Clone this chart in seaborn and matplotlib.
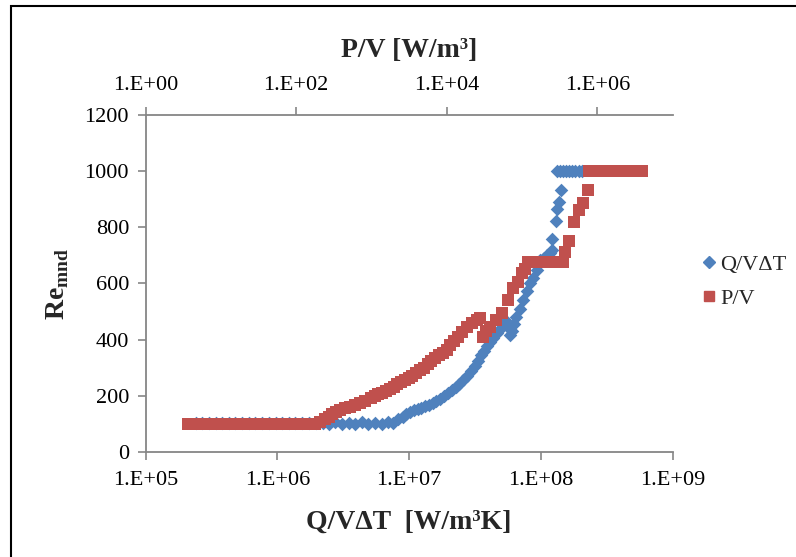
import numpy as np
import matplotlib
matplotlib.use("Agg")
import matplotlib.pyplot as plt
import seaborn as sns
from matplotlib.ticker import FixedLocator, FuncFormatter, NullLocator
from matplotlib.lines import Line2D
from matplotlib.patches import Rectangle

# Q/V.dT series (bottom axis) [W/m3K] and Re_mnd
q_flux = [2.4e5, 2.7e5, 3.0e5, 3.4e5, 3.8e5, 4.3e5, 4.8e5, 5.4e5, 6.1e5, 6.8e5,
          7.7e5, 8.6e5, 9.7e5, 1.09e6, 1.22e6, 1.37e6, 1.54e6, 1.73e6, 1.95e6, 2.2e6,
          2.45e6, 2.75e6, 3.1e6, 3.5e6, 3.9e6, 4.4e6, 4.9e6, 5.5e6, 6.2e6, 6.9e6,
          7.6e6, 8.3e6, 9.0e6, 9.5e6, 1.02e7, 1.08e7, 1.16e7, 1.24e7, 1.32e7, 1.41e7,
          1.51e7, 1.61e7, 1.72e7, 1.84e7, 1.97e7, 2.11e7, 2.26e7, 2.41e7, 2.58e7, 2.75e7,
          2.95e7, 3.14e7, 3.33e7, 3.52e7, 3.72e7, 3.92e7, 4.14e7, 4.36e7, 4.62e7, 4.9e7,
          5.1e7, 5.35e7, 5.7e7, 5.85e7, 6.0e7, 6.2e7, 6.5e7, 6.9e7, 7.3e7, 7.8e7,
          8.3e7, 8.7e7, 9.3e7, 9.9e7, 1.05e8, 1.12e8, 1.17e8, 1.22e8, 1.22e8, 1.30e8,
          1.33e8, 1.37e8, 1.42e8, 1.33e8, 1.40e8, 1.48e8, 1.56e8, 1.64e8, 1.73e8, 1.83e8,
          1.94e8, 2.06e8]
re_q = [104, 104, 104, 104, 104, 104, 104, 104, 104, 104,
        104, 104, 104, 104, 104, 104, 104, 104, 104, 104,
        100, 106, 100, 104, 100, 106, 100, 104, 100, 106,
        104, 116, 125, 135, 142, 148, 153, 157, 162, 167,
        173, 180, 189, 199, 209, 220, 231, 243, 257, 271,
        288, 306, 325, 344, 360, 376, 392, 407, 423, 439,
        455, 471, 440, 416, 430, 455, 480, 510, 540, 572,
        600, 618, 647, 683, 690, 700, 710, 718, 757, 821,
        864, 891, 933, 1000, 1000, 1000, 1000, 1000, 1000, 1000,
        1000, 1000]

# P/V series (top axis) [W/m3] and Re_mnd
p_vol = [3.6, 4.5, 5.6, 7.0, 9.0, 11, 14, 18, 23, 29,
         36, 45, 57, 72, 90, 113, 140, 175, 205, 240,
         270, 302, 340, 383, 450, 523, 610, 711, 830, 970,
         1100, 1230, 1390, 1550, 1750, 1960, 2200, 2470, 2780, 3110,
         3500, 3930, 4400, 4960, 5550, 6250, 7000, 7890, 8850, 9950,
         11200, 12550, 14100, 15800, 18600, 21400, 25000, 27500, 30000, 33000,
         37000, 44500, 53500, 64500, 76000, 89000, 1.0e5, 1.1e5, 1.2e5, 1.29e5,
         1.45e5, 1.62e5, 1.82e5, 2.05e5, 2.3e5, 2.6e5, 2.9e5, 3.2e5, 3.55e5, 3.7e5,
         4.2e5, 4.9e5, 5.7e5, 6.4e5, 7.5e5, 7.7e5, 8.7e5, 1.0e6, 1.15e6, 1.3e6,
         1.5e6, 1.7e6, 1.95e6, 2.2e6, 2.5e6, 2.9e6, 3.3e6, 3.9e6]
re_p = [100, 100, 100, 100, 100, 100, 100, 100, 100, 100,
        100, 100, 100, 100, 100, 100, 100, 100, 108, 116,
        125, 135, 142, 148, 155, 161, 167, 173, 182, 192,
        198, 205, 211, 217, 224, 230, 240, 249, 255, 262,
        271, 281, 290, 300, 312, 325, 334, 344, 353, 363,
        380, 395, 410, 426, 445, 458, 470, 476, 409, 430,
        444, 470, 494, 540, 582, 605, 636, 650, 675, 675,
        675, 675, 675, 675, 675, 675, 675, 675, 675, 711,
        750, 818, 860, 885, 933, 1000, 1000, 1000, 1000, 1000,
        1000, 1000, 1000, 1000, 1000, 1000, 1000, 1000]

blue = "#4F81BD"
red = "#C0504D"
gray = "#868686"

sns.set_theme(style="white")
plt.rcParams['font.family'] = ['Liberation Serif', 'DejaVu Serif']
plt.rcParams['mathtext.fontset'] = 'custom'
plt.rcParams['mathtext.rm'] = 'Liberation Serif'
plt.rcParams['mathtext.bf'] = 'Liberation Serif:bold'

fig = plt.figure(figsize=(7.96, 5.57), dpi=100)
ax = fig.add_axes([0.183, 0.1887, 0.662, 0.605])
ax2 = ax.twiny()

sns.scatterplot(x=q_flux, y=re_q, ax=ax, marker='D', s=48, color=blue,
                linewidth=0, legend=False)
sns.scatterplot(x=p_vol, y=re_p, ax=ax2, marker='s', s=82, color=red,
                linewidth=0, legend=False)

fmt = FuncFormatter(lambda v, p: f"1.E+{int(round(np.log10(v))):02d}")

ax.set_xscale('log')
ax.set_xlim(1e5, 1e9)
ax.xaxis.set_major_locator(FixedLocator([1e5, 1e6, 1e7, 1e8, 1e9]))
ax.xaxis.set_minor_locator(NullLocator())
ax.xaxis.set_major_formatter(fmt)
ax.set_ylim(0, 1200)
ax.set_yticks(range(0, 1201, 200))

ax2.set_xscale('log')
ax2.set_xlim(1, 1e7)
ax2.xaxis.set_major_locator(FixedLocator([1, 1e2, 1e4, 1e6]))
ax2.xaxis.set_minor_locator(NullLocator())
ax2.xaxis.set_major_formatter(fmt)

for a in (ax, ax2):
    for s in a.spines.values():
        s.set_color(gray)
        s.set_linewidth(1.3)
    a.spines['right'].set_visible(False)
ax.spines['top'].set_visible(False)
ax2.spines['left'].set_visible(False)
ax2.spines['bottom'].set_visible(False)

ax.tick_params(axis='x', bottom=True, direction='out', length=6, width=1.2,
               color=gray, labelsize=16, labelcolor='black', pad=8)
ax.tick_params(axis='y', left=True, direction='out', length=6, width=1.2,
               color=gray, labelsize=16, labelcolor='black', pad=6)
ax2.tick_params(axis='x', top=True, direction='out', length=6, width=1.2,
                color=gray, labelsize=16, labelcolor='black', pad=8)

ax.set_xlabel('Q/VΔT  [W/m³K]', fontsize=20, fontweight='bold', labelpad=14)
ax2.set_xlabel('P/V [W/m³]', fontsize=20, fontweight='bold', labelpad=14)
ax.set_ylabel(r'$\mathbf{Re}_{\mathbf{mnd}}$', fontsize=20, labelpad=10)

handles = [Line2D([], [], marker='D', color=blue, linestyle='', markersize=6.5),
           Line2D([], [], marker='s', color=red, linestyle='', markersize=7.5)]
fig.legend(handles, ['Q/VΔT', 'P/V'], loc='center left',
           bbox_to_anchor=(0.855, 0.495), frameon=False, fontsize=16,
           handletextpad=0.1, handlelength=0.8, labelspacing=0.6)

# outer frame
fig.patches.append(Rectangle((11 / 796, -0.05), 1.1, 1.05 - 6 / 557,
                             transform=fig.transFigure, fill=False,
                             edgecolor='black', linewidth=1.5))

fig.savefig('out.png', dpi=100)
